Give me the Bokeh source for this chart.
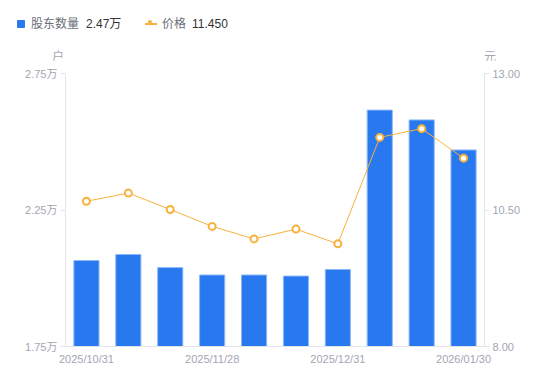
from bokeh.plotting import figure
from bokeh.layouts import column
from bokeh.models import (Range1d, LinearAxis, FixedTicker, NumeralTickFormatter,
                          ColumnDataSource, Div)
from bokeh.embed import file_html
from bokeh.resources import INLINE

# ---- data ----
dates = ["2025/10/31", "2025/11/10", "2025/11/20", "2025/11/28", "2025/12/10",
         "2025/12/19", "2025/12/31", "2026/01/09", "2026/01/20", "2026/01/30"]
holders = [2.065, 2.087, 2.039, 2.012, 2.012, 2.008, 2.032, 2.616, 2.580, 2.47]  # 万户
price = [10.66, 10.81, 10.51, 10.20, 9.97, 10.15, 9.88, 11.83, 11.99, 11.45]  # 元
shown_dates = ["2025/10/31", "2025/11/28", "2025/12/31", "2026/01/30"]
left_ticks = [1.75, 2.25, 2.75]
right_ticks = [8.0, 10.5, 13.0]
left_unit = "户"
right_unit = "元"
series_names = ["股东数量", "价格"]

FONT = "Liberation Sans, Noto Sans CJK SC, sans-serif"
TICK_COLOR = "#a3a6b4"
AXIS_LINE = "#e3e4e8"
BAR = "#2878f0"
ORANGE = "#f8b13c"
NAME_COLOR = "#6b6e78"
VAL_COLOR = "#333333"

HEADER_H = 60
W = 534

idx = list(range(len(dates)))
src = ColumnDataSource(dict(x=idx, h=holders, p=price))

p = figure(width=W, height=375 - HEADER_H, output_backend="svg", toolbar_location=None,
           x_range=Range1d(-0.5, len(dates) - 0.5),
           y_range=Range1d(left_ticks[0], left_ticks[-1]),
           min_border_left=65, min_border_right=50, min_border_top=73 - HEADER_H,
           min_border_bottom=29)
p.outline_line_color = None
p.xgrid.visible = False
p.ygrid.visible = False
p.extra_y_ranges = {"price": Range1d(right_ticks[0], right_ticks[-1])}

p.vbar(x="x", top="h", bottom=left_ticks[0], width=0.6, source=src,
       fill_color=BAR, line_color="#8db8f7", line_width=1)
p.line(x="x", y="p", source=src, y_range_name="price", line_color=ORANGE, line_width=1)
p.scatter(x="x", y="p", source=src, y_range_name="price", size=7,
          fill_color="white", line_color=ORANGE, line_width=2)

# x axis
xa = p.xaxis[0]
xa.ticker = FixedTicker(ticks=[dates.index(d) for d in shown_dates])
xa.major_label_overrides = {dates.index(d): d for d in shown_dates}
xa.major_tick_line_color = None
xa.major_tick_out = 0
xa.major_tick_in = 0
xa.minor_tick_line_color = None
xa.axis_line_color = AXIS_LINE
xa.major_label_text_color = TICK_COLOR
xa.major_label_text_font = FONT
xa.major_label_text_font_size = "11px"
xa.major_label_standoff = 6

# left axis
ya = p.yaxis[0]
ya.ticker = FixedTicker(ticks=left_ticks)
ya.major_label_overrides = {t: f"{t:.2f}万" for t in left_ticks}
ya.minor_tick_line_color = None
ya.major_tick_out = 5
ya.major_tick_in = 0
ya.major_tick_line_color = AXIS_LINE
ya.axis_line_color = AXIS_LINE
ya.major_label_text_color = TICK_COLOR
ya.major_label_text_font = FONT
ya.major_label_text_font_size = "11px"
ya.major_label_standoff = 3

# right axis
ra = LinearAxis(y_range_name="price", ticker=FixedTicker(ticks=right_ticks),
                formatter=NumeralTickFormatter(format="0.00"))
ra.minor_tick_line_color = None
ra.major_tick_out = 5
ra.major_tick_in = 0
ra.major_tick_line_color = AXIS_LINE
ra.axis_line_color = AXIS_LINE
ra.major_label_text_color = TICK_COLOR
ra.major_label_text_font = FONT
ra.major_label_text_font_size = "11px"
ra.major_label_standoff = 3
p.add_layout(ra, "right")


def span(left, top, text, color, size=12, extra=""):
    return (f'<span style="position:absolute;left:{left}px;top:{top}px;'
            f'font-size:{size}px;line-height:16px;color:{color};white-space:nowrap;'
            f'overflow:visible;{extra}">{text}</span>')


header = (
    f'<div style="position:relative;width:{W}px;height:{HEADER_H}px;overflow:visible;'
    f'font-family:{FONT};">'
    f'<span style="position:absolute;left:17px;top:20px;width:8px;height:8px;'
    f'background:{BAR};border-radius:1px;"></span>'
    + span(31, 16, series_names[0], NAME_COLOR)
    + span(86, 16, f"{holders[-1]:.2f}万", VAL_COLOR)
    + f'<span style="position:absolute;left:145px;top:23px;width:12px;height:1.5px;'
      f'background:{ORANGE};"></span>'
    + f'<span style="position:absolute;left:147.5px;top:20px;width:3px;height:3px;'
      f'border:2px solid {ORANGE};border-radius:50%;background:#fff;"></span>'
    + span(162, 16, series_names[1], NAME_COLOR)
    + span(192, 16, f"{price[-1]:.3f}", VAL_COLOR)
    + span(52, 49, left_unit, TICK_COLOR)
    + span(484, 49, right_unit, TICK_COLOR, extra="width:14px;")
    + '</div>'
)
div = Div(text=header, width=W, height=HEADER_H, margin=0,
          styles={"overflow": "visible"})

layout = column(div, p, spacing=0)
open("out.html", "w").write(file_html(layout, INLINE))
